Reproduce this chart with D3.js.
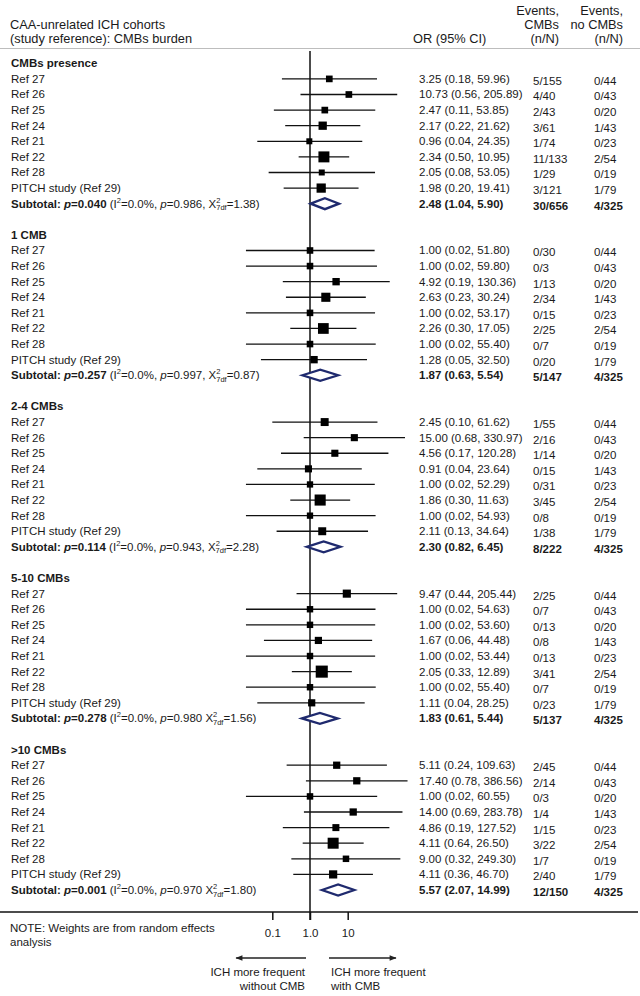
<!DOCTYPE html>
<html><head><meta charset="utf-8">
<script src="https://cdn.jsdelivr.net/npm/d3@7"></script>
<style>
html,body{margin:0;padding:0;background:#fff;}
svg text{font-family:"Liberation Sans",Arial,sans-serif;fill:#1a1a1a;}
</style></head>
<body><svg id="c" width="640" height="996"></svg>
<script>
// ---------- data ----------
const groups = ["CMBs presence", "1 CMB", "2-4 CMBs", "5-10 CMBs", ">10 CMBs"];
const studies = ["Ref 27", "Ref 26", "Ref 25", "Ref 24", "Ref 21", "Ref 22", "Ref 28", "PITCH study (Ref 29)"];

const orPresence = [3.25, 10.73, 2.47, 2.17, 0.96, 2.34, 2.05, 1.98];
const loPresence = [0.18, 0.56, 0.11, 0.22, 0.04, 0.50, 0.08, 0.20];
const hiPresence = [59.96, 205.89, 53.85, 21.62, 24.35, 10.95, 53.05, 19.41];
const evPresence = ["5/155", "4/40", "2/43", "3/61", "1/74", "11/133", "1/29", "3/121"];
const wPresence = [9.3, 9.3, 9.3, 14.3, 7.5, 25.1, 7.5, 17.8];

const or1 = [1.00, 1.00, 4.92, 2.63, 1.00, 2.26, 1.00, 1.28];
const lo1 = [0.02, 0.02, 0.19, 0.23, 0.02, 0.30, 0.02, 0.05];
const hi1 = [51.80, 59.80, 130.36, 30.24, 53.17, 17.05, 55.40, 32.50];
const ev1 = ["0/30", "0/3", "1/13", "2/34", "0/15", "2/25", "0/7", "0/20"];
const w1 = [9.0, 9.0, 11.3, 17.3, 9.0, 24.0, 9.0, 11.3];

const or24 = [2.45, 15.00, 4.56, 0.91, 1.00, 1.86, 1.00, 2.11];
const lo24 = [0.10, 0.68, 0.17, 0.04, 0.02, 0.30, 0.02, 0.13];
const hi24 = [61.62, 330.97, 120.28, 23.64, 52.29, 11.63, 54.93, 34.64];
const ev24 = ["1/55", "2/16", "1/14", "0/15", "0/31", "3/45", "0/8", "1/38"];
const w24 = [13.2, 10.5, 10.5, 10.5, 8.3, 25.6, 8.3, 13.2];

const or510 = [9.47, 1.00, 1.00, 1.67, 1.00, 2.05, 1.00, 1.11];
const lo510 = [0.44, 0.02, 0.02, 0.06, 0.02, 0.33, 0.02, 0.04];
const hi510 = [205.44, 54.63, 53.60, 44.48, 53.44, 12.89, 55.40, 28.25];
const ev510 = ["2/25", "0/7", "0/13", "0/8", "0/13", "3/41", "0/7", "0/23"];
const w510 = [13.7, 8.6, 8.6, 10.8, 8.6, 30.4, 8.6, 10.8];

const or10 = [5.11, 17.40, 1.00, 14.00, 4.86, 4.11, 9.00, 4.11];
const lo10 = [0.24, 0.78, 0.02, 0.69, 0.19, 0.64, 0.32, 0.36];
const hi10 = [109.63, 386.56, 60.55, 283.78, 127.52, 26.50, 249.30, 46.70];
const ev10 = ["2/45", "2/14", "0/3", "1/4", "1/15", "3/22", "1/7", "2/40"];
const w10 = [11.0, 11.0, 8.8, 11.0, 10.2, 25.2, 8.8, 14.0];

const noCmbEvents = ["0/44", "0/43", "0/20", "1/43", "0/23", "2/54", "0/19", "1/79"];

const subOR = [2.48, 1.87, 2.30, 1.83, 5.57];
const subLo = [1.04, 0.63, 0.82, 0.61, 2.07];
const subHi = [5.90, 5.54, 6.45, 5.44, 14.99];
const subEv = ["30/656", "5/147", "8/222", "5/137", "12/150"];
const subNo = ["4/325", "4/325", "4/325", "4/325", "4/325"];
const subP = ["0.040", "0.257", "0.114", "0.278", "0.001"];
const subI2 = ["0.0%", "0.0%", "0.0%", "0.0%", "0.0%"];
const subPhet = ["0.986", "0.997", "0.943", "0.980", "0.970"];
const subPhetSep = [",", ",", ",", "", ""];
const subChi = ["1.38", "0.87", "2.28", "1.56", "1.80"];

const tickValues = [0.1, 1, 10];
const tickLabels = ["0.1", "1.0", "10"];

const ORs = [orPresence, or1, or24, or510, or10];
const LOs = [loPresence, lo1, lo24, lo510, lo10];
const HIs = [hiPresence, hi1, hi24, hi510, hi10];
const EVs = [evPresence, ev1, ev24, ev510, ev10];
const Ws = [wPresence, w1, w24, w510, w10];

// ---------- layout ----------
const svg = d3.select("#c");
const FS = 11.5, HFS = 12.8;
const x = d3.scaleLog().domain([0.01, 100]).range([234.6, 385.4]);
const y = d3.scaleLinear().domain([0, 53]).range([63.3, 890]);
const box = d3.scaleSqrt().domain([0, 30]).range([0, 12]);
const fmt = d3.format(".2f");

const colOR = 419, colEv = 533, colNo = 594, leftX = 11;

function txt(xp, yp, s, opts = {}) {
  return svg.append("text").attr("x", xp).attr("y", yp)
    .attr("dominant-baseline", "central")
    .attr("font-size", opts.fs || FS)
    .attr("font-weight", opts.bold ? "bold" : "normal")
    .attr("text-anchor", opts.anchor || "start")
    .text(s);
}

// header
txt(leftX - 1, 24, "CAA-unrelated ICH cohorts", {fs: HFS});
txt(leftX - 1, 38.5, "(study reference): CMBs burden", {fs: HFS});
txt(413, 38.5, "OR (95% CI)", {fs: HFS});
txt(559, 10, "Events,", {anchor: "end", fs: HFS});
txt(559, 24, "CMBs", {anchor: "end", fs: HFS});
txt(559, 38.5, "(n/N)", {anchor: "end", fs: HFS});
txt(623, 10, "Events,", {anchor: "end", fs: HFS});
txt(623, 24, "no CMBs", {anchor: "end", fs: HFS});
txt(623, 38.5, "(n/N)", {anchor: "end", fs: HFS});
svg.append("line").attr("x1", 0).attr("x2", 640).attr("y1", 48.5).attr("y2", 48.5)
  .attr("stroke", "#bdbdbd").attr("stroke-width", 1);

// reference line
svg.append("line").attr("x1", x(1)).attr("x2", x(1)).attr("y1", 51).attr("y2", 920)
  .attr("stroke", "#111").attr("stroke-width", 1.5);

groups.forEach((g, gi) => {
  const base = gi * 11;
  txt(leftX, y(base), g, {bold: true});
  studies.forEach((s, si) => {
    const yy = y(base + 1 + si);
    const o = ORs[gi][si], lo = LOs[gi][si], hi = HIs[gi][si];
    txt(leftX, yy, s);
    svg.append("line").attr("x1", x(lo)).attr("x2", x(hi)).attr("y1", yy).attr("y2", yy)
      .attr("stroke", "#111").attr("stroke-width", 1.3);
    const b = box(Ws[gi][si]);
    svg.append("rect").attr("x", x(o) - b / 2).attr("y", yy - b / 2).attr("width", b).attr("height", b)
      .attr("fill", "#000");
    txt(colOR, yy, `${fmt(o)} (${fmt(lo)}, ${fmt(hi)})`);
    txt(colEv, yy + 2, EVs[gi][si]);
    txt(colNo, yy + 2, noCmbEvents[si]);
  });
  // subtotal
  const ys = y(base + 9);
  const t = svg.append("text").attr("x", leftX).attr("y", ys).attr("dominant-baseline", "central")
    .attr("font-size", FS);
  t.append("tspan").attr("font-weight", "bold").text("Subtotal: ");
  t.append("tspan").attr("font-weight", "bold").attr("font-style", "italic").text("p");
  t.append("tspan").attr("font-weight", "bold").text("=" + subP[gi]);
  t.append("tspan").text(" (I");
  t.append("tspan").attr("font-size", 7.5).attr("dy", -4).text("2");
  t.append("tspan").attr("dy", 4).text("=" + subI2[gi] + ", ");
  t.append("tspan").attr("font-style", "italic").text("p");
  t.append("tspan").text("=" + subPhet[gi] + subPhetSep[gi] + " X");
  t.append("tspan").attr("font-size", 7.5).attr("dy", -4).text("2");
  t.append("tspan").attr("font-size", 7.5).attr("dx", -4.2).attr("dy", 7.5).text("7df");
  t.append("tspan").attr("dy", -3.5).text("=" + subChi[gi] + ")");

  const xl = x(subLo[gi]), xr = x(subHi[gi]), xm = x(subOR[gi]);
  svg.append("path")
    .attr("d", `M${xl},${ys} L${xm},${ys - 5.5} L${xr},${ys} L${xm},${ys + 5.5} Z`)
    .attr("fill", "#fff").attr("stroke", "#1f2a6e").attr("stroke-width", 2.3)
    .attr("stroke-linejoin", "miter");
  txt(colOR, ys, `${fmt(subOR[gi])} (${fmt(subLo[gi])}, ${fmt(subHi[gi])})`, {bold: true});
  txt(colEv, ys + 2, subEv[gi], {bold: true});
  txt(colNo, ys + 2, subNo[gi], {bold: true});
});

// bottom axis
const axisY = 912;
svg.append("line").attr("x1", 0).attr("x2", 638).attr("y1", axisY).attr("y2", axisY)
  .attr("stroke", "#111").attr("stroke-width", 1.5);
const ax = d3.axisBottom(x).tickValues(tickValues).tickSize(8).tickPadding(9)
  .tickFormat((d, i) => tickLabels[i]);
const axg = svg.append("g").attr("transform", `translate(0,${axisY})`).call(ax);
axg.select(".domain").remove();
axg.selectAll(".tick line").attr("stroke", "#111").attr("stroke-width", 1.5);
axg.selectAll(".tick text").attr("font-size", FS).attr("font-family", "Liberation Sans, Arial, sans-serif")
  .attr("fill", "#1a1a1a");

// note
txt(leftX - 1, 928, "NOTE: Weights are from random effects");
txt(leftX - 1, 942, "analysis");

// arrows
const defs = svg.append("defs");
defs.append("marker").attr("id", "ah").attr("viewBox", "0 0 10 10").attr("refX", 9).attr("refY", 5)
  .attr("markerWidth", 8).attr("markerHeight", 7).attr("orient", "auto-start-reverse")
  .attr("markerUnits", "userSpaceOnUse")
  .append("path").attr("d", "M0,1 L10,5 L0,9 Z").attr("fill", "#222");
const arrowY = 958;
svg.append("line").attr("x1", x(1) - 4).attr("x2", x(0.011)).attr("y1", arrowY).attr("y2", arrowY)
  .attr("stroke", "#222").attr("stroke-width", 1.5).attr("marker-end", "url(#ah)");
svg.append("line").attr("x1", x(1) + 19).attr("x2", x(190)).attr("y1", arrowY).attr("y2", arrowY)
  .attr("stroke", "#222").attr("stroke-width", 1.5).attr("marker-end", "url(#ah)");
txt(305, 972, "ICH more frequent", {anchor: "end"});
txt(305, 986, "without CMB", {anchor: "end"});
txt(331, 972, "ICH more frequent");
txt(331, 986, "with CMB");
</script></body></html>
